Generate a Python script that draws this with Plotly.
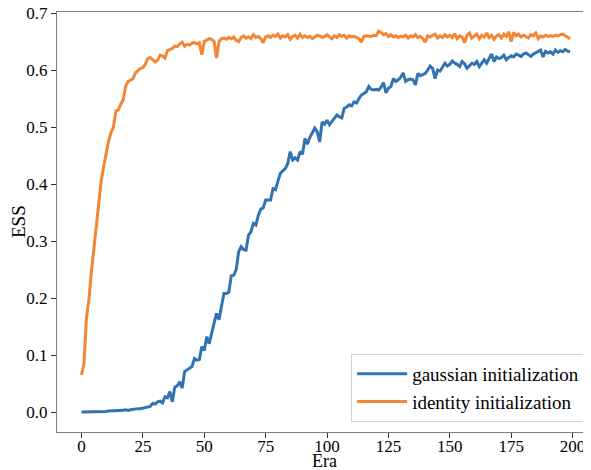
import plotly.graph_objects as go

era = list(range(200))

# ESS per era
gaussian_init = [
    0.000, 0.000, 0.000, 0.000, 0.000, 0.000, 0.001, 0.000, 0.001, 0.001, 0.001,
    0.002, 0.002, 0.002, 0.002, 0.003, 0.002, 0.003, 0.004, 0.003, 0.004,
    0.005, 0.005, 0.006, 0.006, 0.007, 0.007, 0.008, 0.010, 0.015, 0.014,
    0.018, 0.019, 0.016, 0.027, 0.025, 0.036, 0.018, 0.044, 0.046, 0.053,
    0.042, 0.071, 0.074, 0.077, 0.080, 0.094, 0.091, 0.092, 0.115, 0.108,
    0.132, 0.120, 0.140, 0.156, 0.173, 0.162, 0.185, 0.208, 0.208, 0.210,
    0.239, 0.240, 0.250, 0.281, 0.290, 0.285, 0.284, 0.310, 0.316, 0.331,
    0.328, 0.345, 0.356, 0.358, 0.372, 0.372, 0.372, 0.392, 0.390, 0.405,
    0.419, 0.423, 0.427, 0.436, 0.457, 0.442, 0.446, 0.442, 0.457, 0.452,
    0.480, 0.470, 0.482, 0.490, 0.498, 0.492, 0.474, 0.509, 0.505, 0.512,
    0.504, 0.510, 0.516, 0.521, 0.518, 0.516, 0.533, 0.535, 0.539, 0.537,
    0.544, 0.542, 0.550, 0.556, 0.559, 0.562, 0.571, 0.566, 0.565, 0.566,
    0.565, 0.570, 0.578, 0.560, 0.568, 0.571, 0.585, 0.580, 0.583, 0.587,
    0.595, 0.580, 0.583, 0.584, 0.583, 0.574, 0.594, 0.590, 0.592, 0.594,
    0.600, 0.607, 0.603, 0.585, 0.600, 0.598, 0.605, 0.612, 0.607, 0.610,
    0.616, 0.612, 0.610, 0.606, 0.615, 0.611, 0.603, 0.608, 0.612, 0.610,
    0.615, 0.606, 0.612, 0.618, 0.612, 0.620, 0.628, 0.615, 0.623, 0.620,
    0.622, 0.626, 0.618, 0.622, 0.625, 0.623, 0.628, 0.626, 0.624, 0.628,
    0.630, 0.627, 0.624, 0.628, 0.630, 0.632, 0.635, 0.623, 0.633, 0.630,
    0.632, 0.628, 0.635, 0.631, 0.634, 0.632, 0.636, 0.633, 0.632,
]

identity_init = [
    0.065, 0.085, 0.165, 0.196, 0.245, 0.285, 0.330, 0.370, 0.405, 0.430,
    0.455, 0.475, 0.490, 0.500, 0.528, 0.530, 0.540, 0.548, 0.572, 0.580,
    0.582, 0.585, 0.595, 0.600, 0.603, 0.604, 0.610, 0.620, 0.622, 0.618,
    0.614, 0.617, 0.626, 0.625, 0.621, 0.634, 0.636, 0.638, 0.642, 0.641,
    0.646, 0.649, 0.642, 0.645, 0.644, 0.647, 0.648, 0.646, 0.648, 0.627,
    0.650, 0.653, 0.655, 0.654, 0.650, 0.621, 0.650, 0.655, 0.656, 0.654,
    0.657,
    0.655, 0.658, 0.652, 0.650, 0.657, 0.660, 0.656, 0.658, 0.655, 0.662,
    0.657, 0.659, 0.655, 0.648, 0.658, 0.660, 0.657, 0.661, 0.659, 0.663,
    0.656, 0.660, 0.658, 0.662, 0.654, 0.659, 0.661, 0.656, 0.663, 0.657,
    0.660, 0.657, 0.659, 0.655, 0.658, 0.661, 0.660, 0.657, 0.659, 0.662,
    0.658, 0.655, 0.660, 0.657, 0.662, 0.659, 0.661, 0.656, 0.660, 0.658,
    0.659, 0.657, 0.655, 0.649, 0.659, 0.660, 0.660, 0.659, 0.661, 0.660,
    0.668, 0.666, 0.662, 0.664, 0.659, 0.662, 0.658, 0.660, 0.657, 0.659,
    0.658, 0.661, 0.656, 0.660, 0.658, 0.662, 0.657, 0.659, 0.655, 0.649,
    0.660, 0.658, 0.661, 0.663, 0.656, 0.660, 0.657, 0.662, 0.658, 0.661,
    0.657, 0.664, 0.655, 0.660, 0.658, 0.648, 0.661, 0.665, 0.656, 0.660,
    0.663, 0.655, 0.661, 0.658, 0.665, 0.657, 0.661, 0.654, 0.660, 0.662,
    0.656, 0.663, 0.659, 0.667, 0.650, 0.666, 0.660, 0.663, 0.658, 0.661,
    0.659, 0.656, 0.662, 0.660, 0.665, 0.655, 0.660, 0.658, 0.661, 0.659,
    0.660, 0.659, 0.661, 0.660, 0.662, 0.663, 0.660, 0.658, 0.655,
]

FONT = "Liberation Serif, Times New Roman, serif"

fig = go.Figure()
fig.add_trace(go.Scatter(x=era, y=gaussian_init, mode="lines",
                         name="gaussian initialization",
                         line=dict(color="#3274B0", width=3)))
fig.add_trace(go.Scatter(x=era, y=identity_init, mode="lines",
                         name="identity initialization",
                         line=dict(color="#F28634", width=3)))

axis_common = dict(
    showgrid=False, zeroline=False, automargin=False,
    showline=True, linecolor="#7f7f7f", linewidth=1.2,
    ticks="outside", ticklen=5, tickcolor="#333333",
    tickfont=dict(family=FONT, size=17, color="black"),
    ticklabeloverflow="allow",
)

fig.update_xaxes(axis_common, range=[-9.98, 207.5], dtick=25, tick0=0, mirror=True,
                 ticklabelstandoff=-7)
fig.update_yaxes(axis_common, range=[-0.035, 0.7018], dtick=0.1, tick0=0,
                 tickformat=".1f")

# axis titles placed by hand, like matplotlib labels
fig.add_annotation(text="Era", xref="paper", yref="paper", x=0.5, y=0,
                   yshift=-29, showarrow=False, yanchor="middle",
                   font=dict(family=FONT, size=18, color="black"))
fig.add_annotation(text="ESS", xref="paper", yref="paper", x=0, y=0.5,
                   xshift=-39, showarrow=False, textangle=-90, xanchor="center",
                   font=dict(family=FONT, size=19, color="black"))

# the page body adds an 8px offset, so the figure is sized to end at the window edge
fig.update_layout(
    width=583, height=462,
    margin=dict(l=49, r=0, t=4, b=38),
    plot_bgcolor="white", paper_bgcolor="white",
    font=dict(family=FONT, color="black"),
    legend=dict(
        x=0.989, y=0.024, xanchor="right", yanchor="bottom",
        bgcolor="white", bordercolor="#d0d0d0", borderwidth=1,
        font=dict(family=FONT, size=19, color="black"),
        itemwidth=50, tracegroupgap=0,
    ),
)

fig.write_html("out.html")
